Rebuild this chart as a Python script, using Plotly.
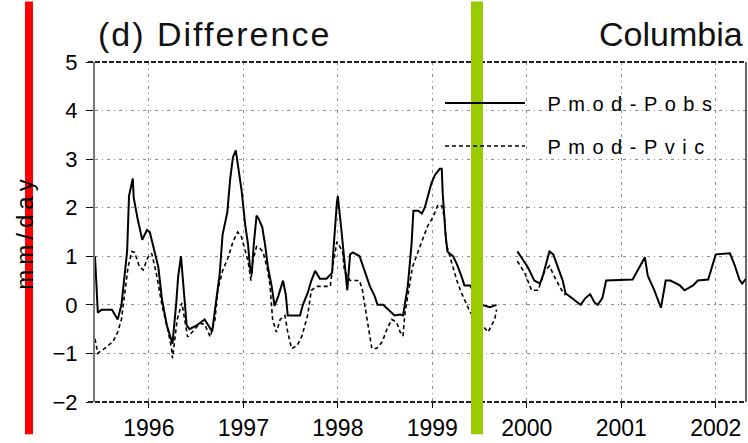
import plotly.graph_objects as go

# ---------------- data (decimal years, mm/day) ----------------
obs_years_a = [1995.43, 1995.46, 1995.50, 1995.61, 1995.67, 1995.71, 1995.77, 1995.79, 1995.83, 1995.84,
               1995.88, 1995.93, 1995.98, 1996.01, 1996.10, 1996.14, 1996.19, 1996.24, 1996.25, 1996.29,
               1996.31, 1996.34, 1996.36, 1996.40, 1996.43, 1996.51, 1996.59, 1996.63, 1996.67, 1996.72,
               1996.75, 1996.78, 1996.83, 1996.86, 1996.89, 1996.92, 1996.94, 1996.98, 1997.02, 1997.05,
               1997.07, 1997.09, 1997.11, 1997.14, 1997.16, 1997.20, 1997.23, 1997.26, 1997.30, 1997.33,
               1997.37, 1997.42, 1997.45, 1997.47, 1997.52, 1997.60, 1997.63, 1997.68, 1997.72, 1997.76,
               1997.81, 1997.88, 1997.94, 1997.95, 1997.99, 1998.00, 1998.04, 1998.07, 1998.10, 1998.13,
               1998.16, 1998.23, 1998.29, 1998.34, 1998.39, 1998.42, 1998.48, 1998.55, 1998.60, 1998.66,
               1998.69, 1998.71, 1998.74, 1998.78, 1998.80, 1998.85, 1998.89, 1998.92, 1998.95, 1998.99,
               1999.03, 1999.08, 1999.10, 1999.11, 1999.14, 1999.16, 1999.22, 1999.26, 1999.31, 1999.34,
               1999.40, 1999.46, 1999.53, 1999.61, 1999.68]
obs_values_a = [1.0, -0.16, -0.1, -0.1, -0.3, 0.0, 1.1, 2.24, 2.6, 2.2,
                1.78, 1.34, 1.54, 1.5, 0.78, 0.1, -0.42, -0.7, -0.8, 0.04,
                0.58, 1.0, 0.58, -0.42, -0.5, -0.42, -0.3, -0.42, -0.55, 0.2,
                0.64, 1.44, 1.9, 2.58, 3.04, 3.18, 2.9, 2.38, 1.64, 1.24,
                0.78, 0.64, 1.24, 1.84, 1.78, 1.6, 1.24, 0.78, 0.38, -0.02,
                0.18, 0.5, 0.2, -0.22, -0.22, -0.22, 0.0, 0.24, 0.5, 0.7,
                0.54, 0.54, 0.66, 1.04, 2.1, 2.24, 1.5, 0.9, 0.3, 1.04,
                1.08, 1.0, 0.64, 0.38, 0.18, 0.0, 0.0, -0.12, -0.22, -0.2,
                -0.22, 0.02, 0.38, 1.24, 1.94, 1.94, 1.88, 2.0, 2.24, 2.5,
                2.68, 2.8, 2.8, 2.3, 1.44, 1.1, 1.0, 0.84, 0.58, 0.4,
                0.4, 0.2, 0.0, -0.05, 0.0]

obs_years_b = [1999.90, 2000.01, 2000.08, 2000.14, 2000.17, 2000.24, 2000.28, 2000.33, 2000.38, 2000.41,
               2000.51, 2000.57, 2000.62, 2000.67, 2000.72, 2000.75, 2000.80, 2000.84, 2001.12, 2001.25,
               2001.28, 2001.35, 2001.42, 2001.47, 2001.52, 2001.62, 2001.67, 2001.76, 2001.81, 2001.92,
               2002.00, 2002.15, 2002.20, 2002.25, 2002.28, 2002.32]
obs_values_b = [1.1, 0.78, 0.5, 0.44, 0.6, 1.1, 1.04, 0.78, 0.5, 0.24,
                0.08, 0.0, 0.14, 0.22, 0.04, 0.0, 0.14, 0.5, 0.52, 0.98,
                0.6, 0.3, -0.06, 0.5, 0.5, 0.4, 0.3, 0.4, 0.5, 0.52,
                1.04, 1.06, 0.82, 0.52, 0.44, 0.54]

vic_years_a = [1995.43, 1995.46, 1995.49, 1995.53, 1995.62, 1995.67, 1995.71, 1995.75, 1995.78, 1995.82,
               1995.85, 1995.90, 1995.94, 1995.99, 1996.03, 1996.08, 1996.14, 1996.20, 1996.24, 1996.25,
               1996.30, 1996.35, 1996.38, 1996.41, 1996.46, 1996.54, 1996.59, 1996.65, 1996.70, 1996.73,
               1996.78, 1996.84, 1996.89, 1996.94, 1996.98, 1997.02, 1997.05, 1997.08, 1997.10, 1997.14,
               1997.17, 1997.21, 1997.25, 1997.28, 1997.31, 1997.35, 1997.39, 1997.44, 1997.47, 1997.51,
               1997.57, 1997.62, 1997.65, 1997.68, 1997.72, 1997.78, 1997.92, 1997.95, 1997.99, 1998.02,
               1998.05, 1998.07, 1998.10, 1998.13, 1998.23, 1998.26, 1998.31, 1998.34, 1998.36, 1998.41,
               1998.47, 1998.52, 1998.57, 1998.62, 1998.66, 1998.69, 1998.71, 1998.74, 1998.79, 1998.85,
               1998.90, 1998.95, 1999.01, 1999.06, 1999.10, 1999.13, 1999.15, 1999.21, 1999.26, 1999.31,
               1999.37, 1999.40, 1999.46, 1999.53, 1999.59, 1999.66, 1999.68]
vic_values_a = [-0.7, -1.0, -0.95, -0.9, -0.76, -0.56, -0.3, 0.3, 0.78, 1.1,
                1.08, 0.78, 0.72, 0.98, 1.06, 0.64, -0.02, -0.5, -0.9, -1.1,
                -0.3, 0.04, -0.3, -0.66, -0.56, -0.38, -0.4, -0.66, -0.3, 0.3,
                0.7, 0.98, 1.3, 1.5, 1.4, 1.1, 0.9, 0.5, 0.9, 1.2,
                1.18, 1.08, 0.78, 0.44, -0.3, -0.56, -0.3, -0.22, -0.56, -0.9,
                -0.84, -0.64, -0.42, -0.22, 0.3, 0.38, 0.38, 0.84, 1.3, 1.2,
                1.1, 0.7, 0.6, 0.5, 0.5, 0.3, -0.3, -0.7, -0.9, -0.9,
                -0.76, -0.5, -0.3, -0.35, -0.56, -0.64, -0.18, 0.18, 0.78, 1.1,
                1.38, 1.62, 1.82, 2.06, 2.04, 1.78, 1.24, 0.84, 0.5, 0.24,
                0.0, -0.15, -0.3, -0.42, -0.56, -0.3, -0.1]

vic_years_b = [1999.90, 1999.98, 2000.05, 2000.12, 2000.19, 2000.24, 2000.30, 2000.37, 2000.41]
vic_values_b = [0.9, 0.65, 0.3, 0.3, 0.7, 0.8, 0.55, 0.3, 0.2]

year_ticks = [1996, 1997, 1998, 1999, 2000, 2001, 2002]
y_ticks = [-2, -1, 0, 1, 2, 3, 4, 5]

# ---------------- layout geometry ----------------
W, H = 748, 443
ML, MR, MT, MB = 95, 2, 62, 33
PW, PH = W - ML - MR, H - MT - MB


def px_x(p):
    return (p - ML) / PW


def px_y(p):
    return (H - MB - p) / PH


FONT = "Liberation Sans"
GRID = dict(showgrid=True, gridcolor="#8a8a8a", gridwidth=1, griddash="3px,4px,1px,4px")

fig = go.Figure()
fig.add_trace(go.Scatter(
    x=obs_years_a + [None] + obs_years_b,
    y=obs_values_a + [None] + obs_values_b,
    mode="lines", line=dict(color="black", width=2),
    name='<span style="letter-spacing:7.5px">\u2002Pmod-Pobs</span>', legendgroup="a",
    connectgaps=False))
fig.add_trace(go.Scatter(
    x=vic_years_a + [None] + vic_years_b,
    y=vic_values_a + [None] + vic_values_b,
    mode="lines", line=dict(color="black", width=1.6, dash="4px,3px"),
    name='<span style="letter-spacing:7.5px">\u2002Pmod-Pvic</span>', legendgroup="b",
    connectgaps=False))

fig.update_layout(
    width=W, height=H,
    margin=dict(l=ML, r=MR, t=MT, b=MB, pad=0),
    paper_bgcolor="white", plot_bgcolor="white",
    font=dict(family=FONT, color="black"),
    showlegend=True,
    legend=dict(x=px_x(440), y=px_y(84), xanchor="left", yanchor="top",
                bgcolor="rgba(0,0,0,0)", font=dict(size=20, family=FONT),
                itemwidth=80, traceorder="grouped", tracegroupgap=14),
    xaxis=dict(range=[1995.43, 2002.32], tickvals=year_ticks,
               ticktext=[str(v) for v in year_ticks],
               ticks="outside", ticklen=5, tickcolor="black",
               tickfont=dict(size=23, family=FONT), zeroline=False, showline=False,
               **GRID),
    yaxis=dict(range=[-2, 5], tickvals=y_ticks,
               ticks="outside", ticklen=7, tickcolor="black",
               tickfont=dict(size=22, family=FONT), zeroline=False,
               showline=True, linecolor="#777", linewidth=2,
               ticklabelstandoff=4,
               title=dict(text='<span style="letter-spacing:5px">mm/day</span>',
                          font=dict(size=24, family=FONT), standoff=12),
               **GRID),
)

# frame
fig.add_shape(type="line", xref="paper", yref="paper", x0=px_x(88), x1=1, y0=1, y1=1,
              line=dict(color="#222", width=2, dash="5px,2px"))
fig.add_shape(type="line", xref="paper", yref="paper", x0=px_x(88), x1=1, y0=0, y1=0,
              line=dict(color="#222", width=2, dash="5px,2px"))
fig.add_shape(type="line", xref="paper", yref="paper", x0=1, x1=1, y0=0, y1=1,
              line=dict(color="#333", width=1.5))

# overlay bars
fig.add_shape(type="rect", xref="paper", yref="paper", x0=px_x(25), x1=px_x(33),
              y0=px_y(H), y1=px_y(0), fillcolor="#ff0000", line=dict(width=0), layer="above")
fig.add_shape(type="rect", xref="paper", yref="paper", x0=px_x(471), x1=px_x(483),
              y0=px_y(H), y1=px_y(0), fillcolor="#99cc00", line=dict(width=0), layer="above")

fig.add_annotation(text='<span style="letter-spacing:2px">(d) Difference</span>',
                   xref="paper", yref="paper", x=px_x(96), y=px_y(33),
                   xanchor="left", yanchor="middle", showarrow=False,
                   font=dict(size=34, family=FONT, color="#111"))
fig.add_annotation(text="Columbia",
                   xref="paper", yref="paper", x=px_x(745), y=px_y(33),
                   xanchor="right", yanchor="middle", showarrow=False,
                   font=dict(size=34, family=FONT, color="#111"))

fig.write_html("out.html")
